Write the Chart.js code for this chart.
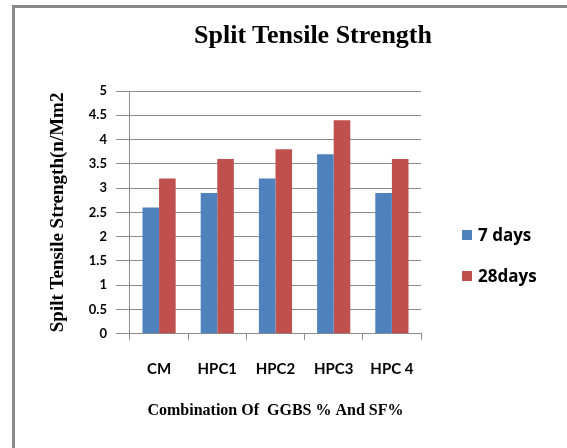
<!DOCTYPE html>
<html>
<head>
<meta charset="utf-8">
<script src="https://cdn.jsdelivr.net/npm/chart.js@4"></script>
<style>
  body { margin: 0; background: #fff; }
  #frame {
    position: absolute; left: 12px; top: 5px; width: 552px; height: 450px;
    border-left: 3px solid #8a8a8a; border-top: 3px solid #8a8a8a; border-right: 1px solid #d0d0d0;
  }
  #wrap { position: absolute; left: 15px; top: 8px; width: 551px; height: 440px; }
  #title {
    position: absolute; left: 163px; width: 300px; top: 20px; text-align: center;
    font: bold 26px "Liberation Serif", serif; color: #000; white-space: nowrap;
  }
  .leg { position: absolute; left: 462px; font: bold 17px "Open Sans", sans-serif; color: #000; }
  .leg span { display: inline-block; width: 10px; height: 10px; margin-right: 6px; vertical-align: 1px; }
</style>
</head>
<body>
<div id="frame"></div>
<div id="wrap"><canvas id="chart"></canvas></div>
<div id="title">Split Tensile Strength</div>
<div class="leg" id="leg0" style="top:223px"><span style="background:#4F81BD"></span>7 days</div>
<div class="leg" id="leg1" style="top:264px"><span style="background:#C0504D"></span>28days</div>
<script>
// 数据
const categories = ["CM", "HPC1", "HPC2", "HPC3", "HPC 4"];
const days7 = [2.6, 2.9, 3.2, 3.7, 2.9];
const days28 = [3.2, 3.6, 3.8, 4.4, 3.6];
const yTicks = [0, 0.5, 1, 1.5, 2, 2.5, 3, 3.5, 4, 4.5, 5];

const gridColor = "#8c8c8c";

new Chart(document.getElementById("chart"), {
    type: "bar",
    data: {
        labels: categories,
        datasets: [
            { label: "7 days", data: days7, backgroundColor: "#4F81BD" },
            { label: "28days", data: days28, backgroundColor: "#C0504D" }
        ]
    },
    options: {
        responsive: true,
        maintainAspectRatio: false,
        animation: false,
        datasets: { bar: { categoryPercentage: 0.57, barPercentage: 1.0 } },
        layout: { padding: { left: 32, right: 145, top: 83, bottom: 28 } },
        plugins: {
            legend: { display: false },
            tooltip: { enabled: false }
        },
        scales: {
            x: {
                grid: { drawOnChartArea: false, tickLength: 6, color: gridColor },
                border: { color: gridColor },
                ticks: { color: "#000", padding: 20, font: { family: "Lato", size: 15, weight: "bold" } },
                title: {
                    display: true, text: "Combination Of  GGBS % And SF%", color: "#000",
                    font: { family: "Liberation Serif", size: 16, weight: "bold" },
                    padding: { top: 3, bottom: 0 }
                }
            },
            y: {
                min: 0, max: 5,
                afterBuildTicks: function(scale) {
                    scale.ticks = yTicks.map(v => ({ value: v }));
                },
                grid: { tickLength: 14, color: gridColor },
                border: { color: gridColor },
                ticks: {
                    color: "#000", padding: 9,
                    font: { family: "Lato", size: 13, weight: "bold" },
                    callback: function(value) { return String(value); }
                },
                title: {
                    display: true, text: "Spilt Tensile Strength(n/Mm2", color: "#000",
                    font: { family: "Liberation Serif", size: 19, weight: "bold" },
                    padding: { top: 0, bottom: 10 }
                }
            }
        }
    }
});
</script>
</body>
</html>
